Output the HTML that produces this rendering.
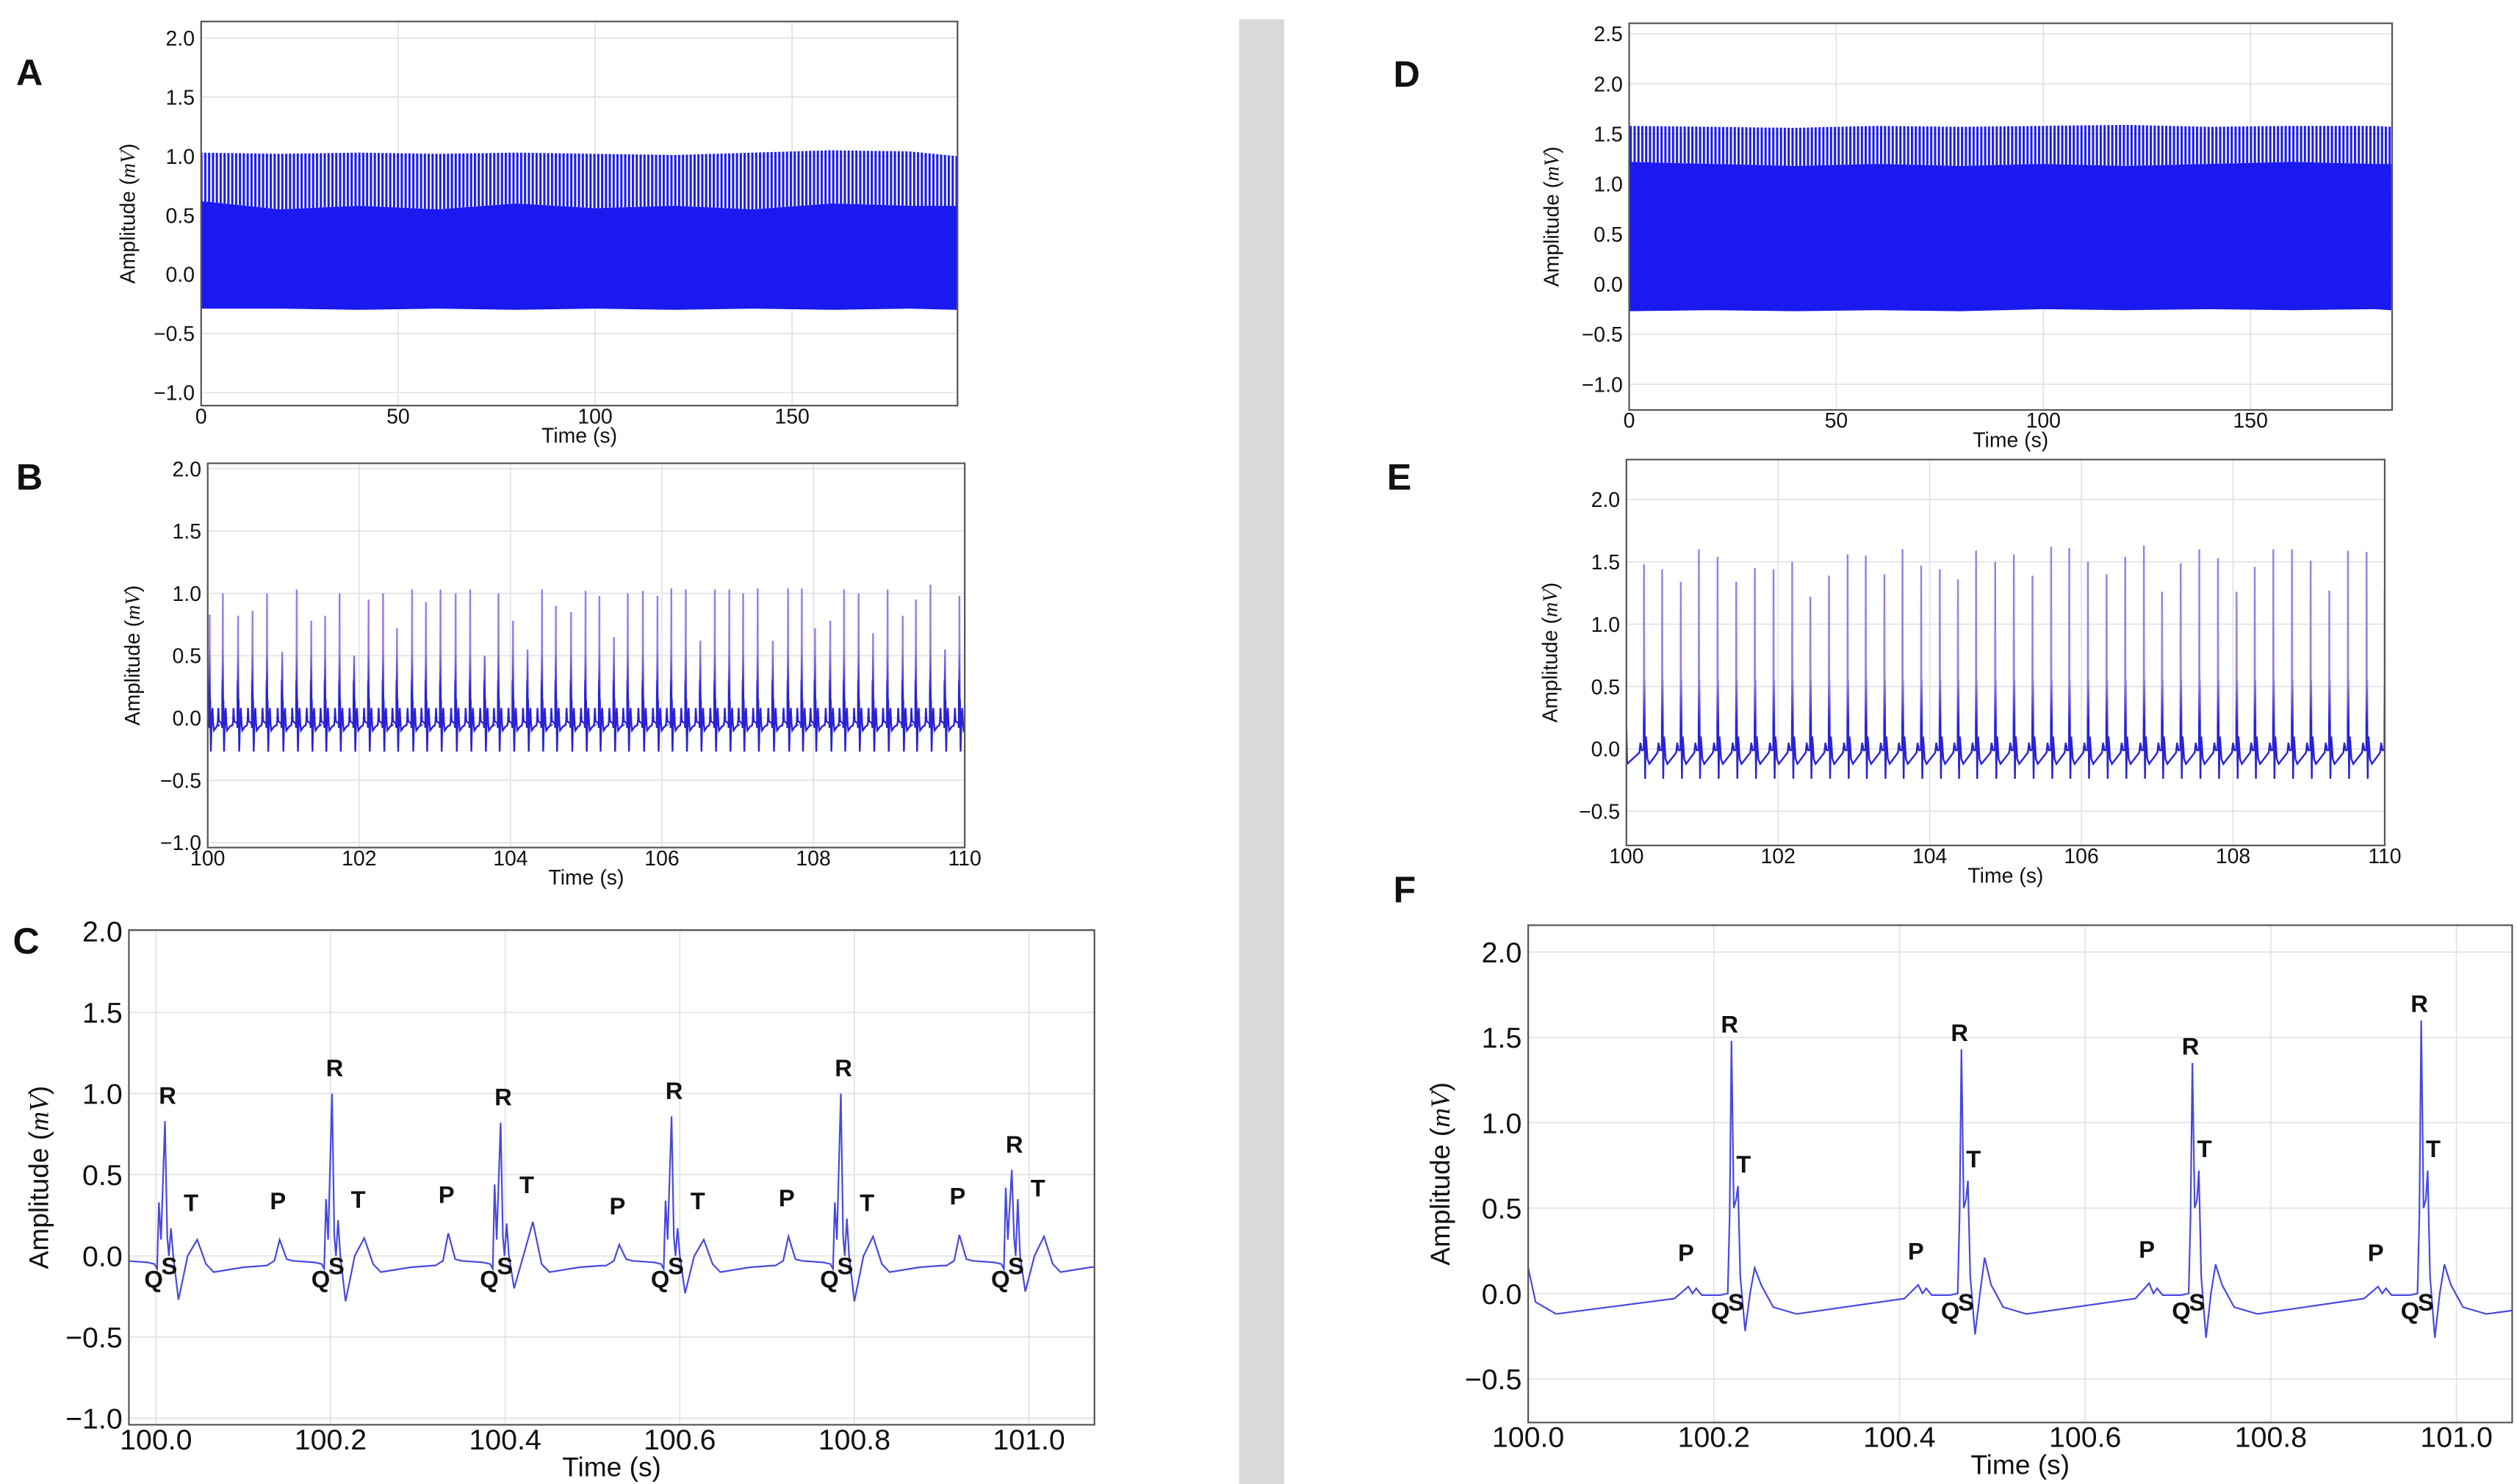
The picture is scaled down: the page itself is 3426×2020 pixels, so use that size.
<!DOCTYPE html>
<html><head><meta charset="utf-8"><style>
html,body{margin:0;padding:0;background:#fff;}
svg{display:block;}
text{font-family:"Liberation Sans",sans-serif;fill:#111;}
.nar{font-family:"Liberation Sans Narrow","Liberation Sans",sans-serif;}
.lbl{font-weight:bold;font-size:23px;}
</style></head><body>
<svg id="fig" xmlns="http://www.w3.org/2000/svg" width="3426" height="2020" viewBox="0 0 1568 924.5" preserveAspectRatio="none">
<defs>
<pattern id="hair" width="2.4" height="10" patternUnits="userSpaceOnUse"><rect x="0" y="0" width="1.4" height="10" fill="#1c1cee"/></pattern>
</defs>
<rect x="772" y="12" width="28" height="913" fill="#d9d9d9"/>
<text class="lbl" x="10" y="53">A</text>
<text class="lbl" x="10" y="305">B</text>
<text class="lbl" x="8" y="594">C</text>
<text class="lbl" x="868" y="54">D</text>
<text class="lbl" x="864" y="305">E</text>
<text class="lbl" x="868" y="562">F</text>
</svg>
<script>
// ---- Panel A data (envelope of 0-192 s recording) ----
const aTimes=[0,20,40,60,80,100,120,140,160,180,192];
const aTop=[1.03,1.02,1.03,1.02,1.03,1.02,1.01,1.03,1.05,1.04,1.0];
const aDense=[0.62,0.55,0.58,0.55,0.6,0.56,0.58,0.55,0.6,0.58,0.58];
const aBottom=[-0.29,-0.29,-0.3,-0.29,-0.3,-0.29,-0.3,-0.29,-0.3,-0.29,-0.3];
// ---- Panel D data ----
const dTimes=[0,20,40,60,80,100,120,140,160,180,184];
const dTop=[1.58,1.57,1.56,1.58,1.57,1.58,1.59,1.57,1.58,1.58,1.57];
const dDense=[1.22,1.2,1.18,1.2,1.18,1.2,1.18,1.2,1.22,1.2,1.2];
const dBottom=[-0.27,-0.26,-0.27,-0.26,-0.27,-0.25,-0.26,-0.25,-0.26,-0.25,-0.26];
// ---- Panel B data (R peaks) ----
const bTimes=[100.026,100.200,100.401,100.592,100.784,100.984,101.176,101.368,101.551,101.742,101.934,102.125,102.317,102.500,102.700,102.883,103.075,103.275,103.467,103.659,103.841,104.033,104.225,104.416,104.599,104.800,104.991,105.174,105.366,105.549,105.749,105.941,106.124,106.315,106.507,106.699,106.890,107.073,107.265,107.465,107.666,107.848,108.023,108.223,108.406,108.598,108.789,108.981,109.181,109.355,109.547,109.739,109.930];
const bAmps=[0.83,1.0,0.82,0.86,1.0,0.53,1.03,0.78,0.82,1.0,0.5,0.95,1.0,0.72,1.03,0.93,1.03,1.0,1.03,0.5,1.0,0.78,0.55,1.03,0.9,0.85,1.02,0.98,0.65,1.0,1.02,0.98,1.04,1.03,0.62,1.03,1.03,1.0,1.04,0.62,1.04,1.04,0.72,0.78,1.03,1.0,0.68,1.03,0.82,0.95,1.07,0.55,0.98];
// ---- Panel C data (per beat features) ----
const cRT=[100.0103,100.2017,100.3948,100.5906,100.7845,100.9803];
const cR=[0.83,1.0,0.82,0.86,1.0,0.53];
const cPre=[0.33,0.35,0.44,0.34,0.33,0.42];
const cPost=[0.17,0.22,0.2,0.17,0.23,0.35];
const cTrough=[-0.27,-0.28,-0.2,-0.23,-0.28,-0.22];
const cT=[0.1,0.11,0.21,0.1,0.12,0.12];
const cP=[0.05,0.1,0.14,0.07,0.12,0.13];
// ---- Panel E data ----
const eTimes=[100.232,100.471,100.717,100.956,101.202,101.448,101.694,101.940,102.186,102.425,102.671,102.917,103.156,103.402,103.641,103.887,104.133,104.372,104.611,104.863,105.109,105.355,105.601,105.840,106.086,106.332,106.578,106.824,107.063,107.309,107.555,107.801,108.046,108.286,108.531,108.777,109.023,109.269,109.515,109.761,110.000];
const eAmps=[1.48,1.44,1.34,1.60,1.54,1.34,1.45,1.44,1.50,1.22,1.39,1.56,1.55,1.40,1.60,1.47,1.44,1.36,1.59,1.50,1.56,1.39,1.62,1.61,1.50,1.40,1.54,1.63,1.26,1.49,1.60,1.53,1.26,1.46,1.60,1.60,1.51,1.27,1.59,1.58,1.28];
// ---- Panel F data ----
const fRT=[100.219,100.4667,100.7155,100.962];
const fR=[1.48,1.43,1.35,1.60];
const fT=[0.63,0.66,0.72,0.72];
const fTrough=[-0.22,-0.24,-0.26,-0.26];
const fBump=[0.15,0.21,0.17,0.17];
const fP=[0.04,0.05,0.06,0.04];
// ---- ticks ----
const yTicksAB=[-1,-0.5,0,0.5,1,1.5,2];
const yTicksD=[-1,-0.5,0,0.5,1,1.5,2,2.5];
const yTicksEF=[-0.5,0,0.5,1,1.5,2];
const xTicksAD=[0,50,100,150];
const xTicksBE=[100,102,104,106,108,110];
const xTicksCF=[100.0,100.2,100.4,100.6,100.8,101.0];

const NS="http://www.w3.org/2000/svg";
const svg=document.getElementById('fig');
function el(tag,attrs,parent){const e=document.createElementNS(NS,tag);for(const k in attrs)e.setAttribute(k,attrs[k]);(parent||svg).appendChild(e);return e;}
function fmt(v,d){let s=v.toFixed(d);if(v<0)s='\u2212'+s.slice(1);return s;}
let clipN=0;
function axes(c){
  const g=el('g',{});
  
  
  const sx=t=>c.x0+(t-c.xmin)/(c.xmax-c.xmin)*(c.x1-c.x0);
  const sy=v=>c.y1-(v-c.ymin)/(c.ymax-c.ymin)*(c.y1-c.y0);
  c.yt.forEach(v=>{
    const l=el('line',{x1:c.x0,x2:c.x1,y1:sy(v),y2:sy(v),stroke:'#e3e3e8','stroke-width':0.8},g);
    
    
    const t=el('text',{x:c.x0-4,y:sy(v)+c.fs*0.36,'text-anchor':'end','font-size':c.fs,class:c.cls||''},g);
    
    
    t.textContent=fmt(v,1);
  });
  c.xt.forEach(v=>{
    const l=el('line',{x1:sx(v),x2:sx(v),y1:c.y0,y2:c.y1,stroke:'#e3e3e8','stroke-width':0.8},g);
    
    
    const t=el('text',{x:sx(v),y:c.y1+c.fs*0.85,'text-anchor':'middle','font-size':c.fs,class:c.cls||''},g);
    
    
    t.textContent=c.xd===0?String(v):v.toFixed(c.xd);
  });
  const xt=el('text',{x:(c.x0+c.x1)/2,y:c.y1+c.fs*1.78,'text-anchor':'middle','font-size':c.tfs,class:c.cls||''},g);
  
  
  xt.textContent='Time (s)';
  const yx=c.ytx, yy=(c.y0+c.y1)/2;
  const yt=el('text',{x:yx,y:yy,'text-anchor':'middle','font-size':c.tfs,transform:`rotate(-90 ${yx} ${yy})`},g);
  
  
  yt.innerHTML='Amplitude (<tspan font-family="Liberation Serif,serif" font-style="italic">mV</tspan>)';
  const id='clip'+(clipN++);
  const cp=el('clipPath',{id:id},g);
  el('rect',{x:c.x0,y:c.y0,width:c.x1-c.x0,height:c.y1-c.y0},cp);
  const plot=el('g',{'clip-path':`url(#${id})`},g);
  const box=el('rect',{x:c.x0,y:c.y0,width:c.x1-c.x0,height:c.y1-c.y0,fill:'none',stroke:'#555','stroke-width':1},g);
  
  
  return {sx,sy,g,plot};
}
function band(ax,times,top,dense,bottom,name){
  let solid='', hair='';
  times.forEach((t,i)=>{solid+=(i?'L':'M')+ax.sx(t)+','+ax.sy(dense[i]);});
  for(let i=times.length-1;i>=0;i--)solid+='L'+ax.sx(times[i])+','+ax.sy(bottom[i]);
  times.forEach((t,i)=>{hair+=(i?'L':'M')+ax.sx(t)+','+ax.sy(top[i]);});
  for(let i=times.length-1;i>=0;i--)hair+='L'+ax.sx(times[i])+','+ax.sy(dense[i]);
  const h=el('path',{d:hair+'Z',fill:'url(#hair)'},ax.plot);
  
  
  const s=el('path',{d:solid+'Z',fill:'#1a1af0'},ax.plot);
  
  
}
function beatC(tR,R,pre,post,trough,T,P){
  return [[-0.075,-0.06],[-0.066,-0.03],[-0.06,P],[-0.052,-0.02],[-0.045,-0.03],[-0.02,-0.04],[-0.012,-0.05],[-0.009,-0.08],[-0.0069,pre],[-0.0045,0.1],[0,R],[0.0026,0.12],[0.0045,0.0],[0.0069,post],[0.0095,0.0],[0.0155,trough],[0.026,0.0],[0.0369,T],[0.047,-0.05],[0.0558,-0.1],[0.09,-0.07],[0.115,-0.06]].map(p=>[tR+p[0],p[1]]);
}
function beatF(tR,R,T,trough,bump,P){
  return [[-0.0615,-0.03],[-0.0465,P],[-0.042,0.0],[-0.038,0.03],[-0.032,-0.01],[-0.012,-0.01],[-0.004,0.0],[-0.002,0.45],[0,R],[0.0025,0.5],[0.005,0.55],[0.007,T],[0.0095,0.1],[0.0147,trough],[0.02,0.0],[0.025,bump],[0.032,0.05],[0.045,-0.08],[0.07,-0.12]].map(p=>[tR+p[0],p[1]]);
}
function pathOf(ax,pts){return pts.map((p,i)=>(i?'L':'M')+ax.sx(p[0]).toFixed(2)+','+ax.sy(p[1]).toFixed(2)).join('');}
function gradient(id,ax){
  const defs=svg.querySelector('defs');
  const lg=el('linearGradient',{id:id,gradientUnits:'userSpaceOnUse',x1:0,x2:0,y1:ax.sy(0.2),y2:ax.sy(0.55)},defs);
  el('stop',{offset:0,'stop-color':'#2a22d6'},lg);
  el('stop',{offset:1,'stop-color':'#9b7de6'},lg);
}
function label(ax,txt,t,v,fs,name){
  const e=el('text',{x:ax.sx(t),y:ax.sy(v)+fs*0.36,'text-anchor':'middle','font-size':fs,'font-weight':'bold',class:'nar'},ax.g);
  
  
  e.textContent=txt;
}

// Panel A
const axA=axes({name:'panel-a-chart',x0:125.3,x1:596.5,y0:13.4,y1:252.7,xmin:0,xmax:192,ymin:-1.11,ymax:2.139,xt:xTicksAD,yt:yTicksAB,fs:13,tfs:13,xd:0,ytx:84});
band(axA,aTimes,aTop,aDense,aBottom,'panel-a');
// Panel D
const axD=axes({name:'panel-d-chart',x0:1014.9,x1:1490.2,y0:14.5,y1:255.4,xmin:0,xmax:184.2,ymin:-1.256,ymax:2.604,xt:xTicksAD,yt:yTicksD,fs:13,tfs:13,xd:0,ytx:971,cls:'nar'});
band(axD,dTimes,dTop,dDense,dBottom,'panel-d');

// Panel B
const axB=axes({name:'panel-b-chart',x0:129.4,x1:601,y0:288.6,y1:528,xmin:100,xmax:110,ymin:-1.04,ymax:2.044,xt:xTicksBE,yt:yTicksAB,fs:13,tfs:13,xd:0,ytx:87});
gradient('gradB',axB);
let ptsB=[[99.9,-0.05]];
bTimes.forEach((t,i)=>{ptsB=ptsB.concat(beatC(t,bAmps[i],0.3,0.15,-0.27,0.08,0.08));});
const pB=el('path',{d:pathOf(axB,ptsB),fill:'none',stroke:'url(#gradB)','stroke-width':1.1},axB.plot);



// Panel E
const axE=axes({name:'panel-e-chart',x0:1013.2,x1:1485.6,y0:286.3,y1:526.7,xmin:100,xmax:110,ymin:-0.774,ymax:2.32,xt:xTicksBE,yt:yTicksEF,fs:13,tfs:13,xd:0,ytx:970,cls:'nar'});
gradient('gradE',axE);
let ptsE=[[99.95,-0.1],[100.0,0.15],[100.01,-0.12]];
eTimes.forEach((t,i)=>{ptsE=ptsE.concat(beatF(t,eAmps[i],0.55,-0.24,0.1,0.05));});
const pE=el('path',{d:pathOf(axE,ptsE),fill:'none',stroke:'url(#gradE)','stroke-width':1.1},axE.plot);



// Panel C
const axC=axes({name:'panel-c-chart',x0:80.3,x1:681.8,y0:579.4,y1:887.6,xmin:99.969,xmax:101.075,ymin:-1.04,ymax:2.007,xt:xTicksCF,yt:yTicksAB,fs:18,tfs:17,xd:1,ytx:30,cls:'nar'});
let ptsC=[[99.969,-0.07]];
cRT.forEach((t,i)=>{ptsC=ptsC.concat(beatC(t,cR[i],cPre[i],cPost[i],cTrough[i],cT[i],cP[i]));});
ptsC.push([101.075,-0.06]);
const pC=el('path',{d:pathOf(axC,ptsC),fill:'none',stroke:'#4848e0','stroke-width':1},axC.plot);


cRT.forEach((t,i)=>{
  label(axC,'R',t+0.003,cR[i]+0.16,15,'r-wave-label');
  label(axC,'T',t+0.03,cPre[i]+0.0,15,'t-wave-label');
  label(axC,'Q',t-0.013,-0.14,15,'q-wave-label');
  label(axC,'S',t+0.005,-0.06,15,'s-wave-label');
  if(t-0.06>100.0)label(axC,'P',t-0.062,cP[i]+0.24,15,'p-wave-label');
});

// Panel F
const axF=axes({name:'panel-f-chart',x0:952,x1:1565,y0:576.4,y1:886.2,xmin:100.0,xmax:101.06,ymin:-0.756,ymax:2.157,xt:xTicksCF,yt:yTicksEF,fs:18,tfs:17,xd:1,ytx:903,cls:'nar'});
let ptsF=[[100.0,0.15],[100.008,-0.05],[100.03,-0.12]];
fRT.forEach((t,i)=>{ptsF=ptsF.concat(beatF(t,fR[i],fT[i],fTrough[i],fBump[i],fP[i]));});
ptsF.push([101.06,-0.1]);
const pF=el('path',{d:pathOf(axF,ptsF),fill:'none',stroke:'#4848e0','stroke-width':1},axF.plot);


fRT.forEach((t,i)=>{
  label(axF,'R',t-0.002,fR[i]+0.1,15,'r-wave-label');
  label(axF,'T',t+0.013,fT[i]+0.13,15,'t-wave-label');
  label(axF,'Q',t-0.012,-0.1,15,'q-wave-label');
  label(axF,'S',t+0.005,-0.05,15,'s-wave-label');
  label(axF,'P',t-0.049,fP[i]+0.2,15,'p-wave-label');
});
</script>
</body></html>
